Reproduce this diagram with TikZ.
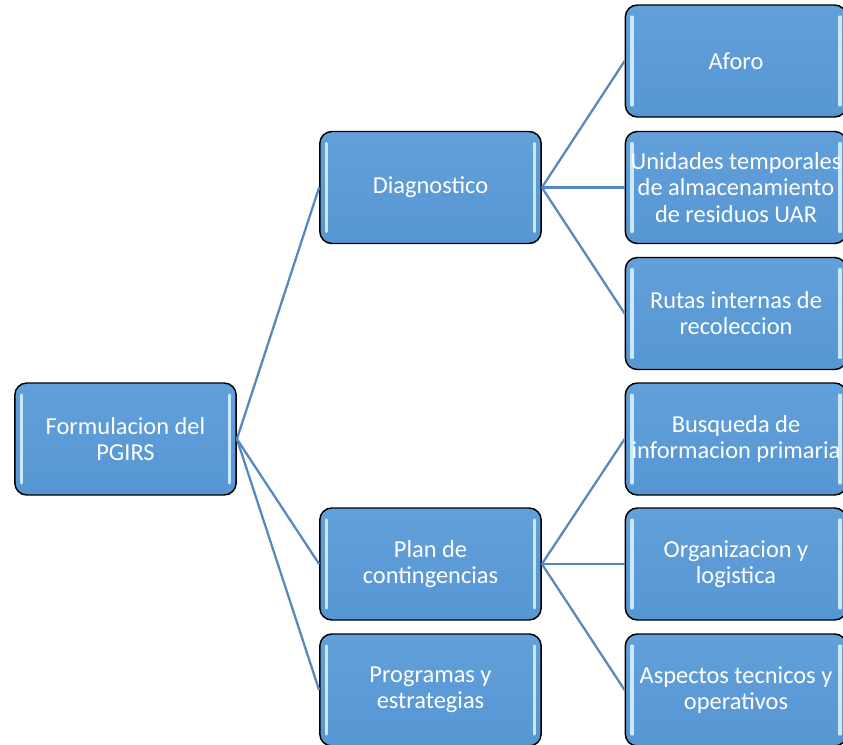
\documentclass[tikz,border=0pt]{standalone}
\usepackage{fontspec}
\setmainfont{Carlito}
\usepackage{tikz}
\usetikzlibrary{calc,shapes}

\definecolor{cajaarriba}{RGB}{98,160,218}
\definecolor{cajaabajo}{RGB}{86,150,211}
\definecolor{brillo}{RGB}{215,242,255}
\definecolor{linea}{RGB}{84,136,190}

\tikzset{
  caja/.style={rectangle, rounded corners=9pt, draw=black, line width=1.1pt,
    top color=cajaarriba, bottom color=cajaabajo,
    minimum width=166pt, minimum height=84pt, inner sep=0pt,
    align=center, text=white, font=\fontsize{18.3}{19.6}\selectfont,
    path picture={
      \draw[brillo, line width=2.4pt, line cap=round, opacity=0.9]
        ($(path picture bounding box.north west)+(5pt,-9pt)$) -- ($(path picture bounding box.south west)+(5pt,9pt)$);
      \draw[brillo, line width=2.4pt, line cap=round, opacity=0.9]
        ($(path picture bounding box.north east)+(-5pt,-9pt)$) -- ($(path picture bounding box.south east)+(-5pt,9pt)$);
    }},
  enlace/.style={draw=linea, line width=1.7pt}
}

\begin{document}
\begin{tikzpicture}[x=0.75pt,y=-0.75pt]
\useasboundingbox (0,0) rectangle (843,744);
			% Cajas
\node[caja] (raiz) at (125.5,439) {Formulacion del\\PGIRS};
\node[caja] (diag) at (430.5,187.5) {Diagnostico};
\node[caja] (plan) at (430.5,564) {Plan de\\contingencias};
\node[caja] (prog) at (430.5,690) {Programas y\\estrategias};
\node[caja] (aforo) at (736,61) {Aforo};
\node[caja] (unid) at (736,187.5) {Unidades temporales\\de almacenamiento\\de residuos UAR};
\node[caja] (rutas) at (736,313.5) {Rutas internas de\\recoleccion};
\node[caja] (busq) at (736,439) {Busqueda de\\informacion primaria};
\node[caja] (orga) at (736,564) {Organizacion y\\logistica};
\node[caja] (aspe) at (736,690) {Aspectos tecnicos y\\operativos};
			% Enlaces
\draw[enlace] (raiz.east) -- (diag.west);
\draw[enlace] (raiz.east) -- (plan.west);
\draw[enlace] (raiz.east) -- (prog.west);
\draw[enlace] (diag.east) -- (aforo.west);
\draw[enlace] (diag.east) -- (unid.west);
\draw[enlace] (diag.east) -- (rutas.west);
\draw[enlace] (plan.east) -- (busq.west);
\draw[enlace] (plan.east) -- (orga.west);
\draw[enlace] (plan.east) -- (aspe.west);
\end{tikzpicture}
\end{document}
